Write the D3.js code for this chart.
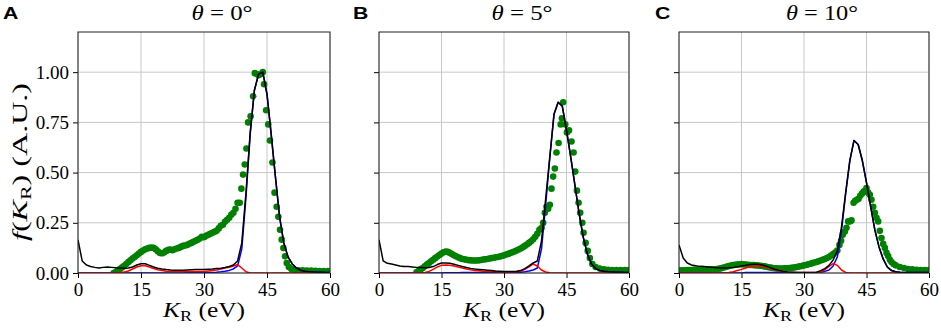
<!DOCTYPE html>
<html>
<head>
<meta charset="utf-8">
<script src="https://cdn.jsdelivr.net/npm/d3@7"></script>
<style>
  body { margin: 0; background: #fff; }
  svg { display: block; }
</style>
</head>
<body>
<svg width="941" height="329"></svg>
<script>
// energy grid for the calculated curves (eV)
const kGrid = [0,1,2,3,4,5,6,7,8,9,10,11,12,13,14,15,16,17,18,19,20,21,22,23,24,25,26,27,28,29,30,
  31,32,33,34,35,36,37,38,39,40,41,42,43,44,45,46,47,48,49,50,51,52,53,54,55,56,57,58,59,60];

// ---- panel A, theta = 0 ----
const totA = [0.165,0.06,0.04,0.032,0.028,0.025,0.028,0.03,0.028,0.026,0.025,0.024,0.025,0.03,0.04,0.046,
  0.046,0.038,0.03,0.024,0.02,0.017,0.015,0.014,0.014,0.014,0.015,0.016,0.017,0.018,0.018,
  0.019,0.02,0.022,0.024,0.027,0.032,0.04,0.06,0.15,0.4,0.7,0.91,0.99,1.0,0.89,0.69,0.48,0.28,0.15,0.08,
  0.045,0.025,0.014,0.009,0.006,0.005,0.004,0.004,0.003,0.003];
const blueA = [0,0,0,0,0,0,0,0,0,0,0,0,0,0,0,0,0,0,0,0,0,0,0,0,0,0,0.001,0.001,0.001,0.001,0.001,
  0.002,0.003,0.004,0.006,0.009,0.013,0.02,0.035,0.12,0.38,0.69,0.91,0.99,1.0,0.89,0.69,0.48,0.28,0.15,0.08,
  0.045,0.025,0.014,0.009,0.006,0.005,0.004,0.004,0.003,0.003];
const redA = [0,0,0,0,0,0,0,0,0,0,0.002,0.005,0.01,0.02,0.03,0.036,0.036,0.03,0.022,0.016,0.012,
  0.009,0.008,0.007,0.007,0.007,0.007,0.007,0.007,0.008,0.008,0.01,0.012,0.015,0.02,0.025,0.028,0.035,
  0.042,0.025,0.006,0,0,0,0,0,0,0,0,0,0,0,0,0,0,0,0,0,0,0,0];
const expXA = [8.5,9,9.5,10,10.5,11,11.5,12,12.5,13,13.5,14,14.5,15,15.5,16,16.5,17,17.5,18,18.5,19,19.5,
  20,20.5,21,21.5,22,22.5,23,23.5,24,24.5,25,25.5,26,26.5,27,27.5,28,28.5,29,29.5,30,30.5,31,31.5,32,32.5,
  33,33.5,34,34.5,35,35.5,36,36.5,37,37.5,38,38.5,38.9,39.3,39.7,40.1,40.5,41.1,41.7,42.1,42.6,43.0,43.5,
  44.0,44.3,44.8,45.3,45.7,46.3,46.8,47.3,47.7,48.1,48.5,48.9,49.3,49.7,50.2,50.8,51.5,52.5,53.5,54.5,
  55.5,56.5,57.5,58.5,59.5];
const expYA = [0.0,0.005,0.012,0.02,0.028,0.036,0.045,0.055,0.063,0.072,0.08,0.088,0.097,0.105,0.112,0.118,
  0.122,0.125,0.127,0.125,0.118,0.108,0.1,0.098,0.102,0.11,0.115,0.117,0.113,0.118,0.122,0.125,0.13,0.135,
  0.137,0.14,0.146,0.15,0.155,0.16,0.165,0.172,0.18,0.178,0.185,0.19,0.195,0.2,0.205,0.21,0.222,0.235,0.24,
  0.255,0.265,0.275,0.29,0.3,0.32,0.35,0.35,0.42,0.49,0.54,0.62,0.75,0.78,0.88,0.995,0.99,0.985,0.99,
  1.0,0.94,0.81,0.74,0.66,0.55,0.4,0.33,0.28,0.215,0.166,0.124,0.083,0.05,0.03,0.02,0.016,0.014,0.013,
  0.012,0.012,0.011,0.01,0.01,0.01];

// ---- panel B, theta = 5 ----
const totB = [0.165,0.06,0.048,0.045,0.04,0.035,0.032,0.032,0.03,0.028,0.027,0.026,0.027,0.032,0.042,0.05,
  0.05,0.048,0.044,0.038,0.032,0.027,0.023,0.02,0.018,0.016,0.014,0.012,0.01,0.009,0.008,
  0.008,0.008,0.009,0.012,0.022,0.035,0.05,0.06,0.16,0.37,0.58,0.79,0.85,0.83,0.71,0.58,0.44,0.3,0.18,0.095,
  0.045,0.022,0.013,0.009,0.006,0.005,0.004,0.004,0.003,0.003];
const blueB = [0,0,0,0,0,0,0,0,0,0,0,0,0,0,0,0,0.001,0.001,0.001,0.001,0.002,0.002,0.002,0.002,0.002,0.002,
  0.002,0.002,0.002,0.002,0.002,0.003,0.003,0.003,0.004,0.006,0.01,0.015,0.025,0.12,0.34,0.575,0.79,0.85,
  0.83,0.71,0.58,0.44,0.3,0.18,0.095,0.045,0.022,0.013,0.009,0.006,0.005,0.004,0.004,0.003,0.003];
const redB = [0,0,0,0,0,0,0,0,0,0,0,0.003,0.008,0.018,0.03,0.038,0.04,0.039,0.035,0.03,0.025,
  0.02,0.016,0.013,0.011,0.009,0.008,0.007,0.006,0.005,0.005,0.005,0.005,0.006,0.009,0.018,0.03,0.045,
  0.035,0.015,0.005,0.001,0,0,0,0,0,0,0,0,0,0,0,0,0,0,0,0,0,0,0];
const expXB = [9,9.5,10,10.5,11,11.5,12,12.5,13,13.5,14,14.5,15,15.5,16,16.5,17,17.5,18,18.5,19,19.5,20,20.5,
  21,21.5,22,22.5,23,23.5,24,24.5,25,25.5,26,26.5,27,27.5,28,28.5,29,29.5,30,30.5,31,31.5,32,32.5,33,33.5,
  34,34.5,35,35.5,36,36.5,37,37.5,38,38.5,39,39.4,39.8,40.2,40.6,41.0,41.4,41.8,42.2,42.6,43.1,43.6,43.9,
  44.2,44.7,45.1,45.6,46.2,46.7,47.1,47.5,47.9,48.3,48.8,49.1,49.6,50.1,50.6,51.2,52,53,54,55,56,57,58,
  59,60];
const expYB = [0.003,0.01,0.018,0.025,0.033,0.042,0.05,0.058,0.066,0.074,0.082,0.09,0.097,0.103,0.107,0.105,
  0.1,0.094,0.088,0.083,0.078,0.074,0.07,0.068,0.066,0.064,0.063,0.062,0.062,0.062,0.063,0.065,0.067,0.068,
  0.07,0.072,0.074,0.076,0.078,0.08,0.082,0.085,0.088,0.092,0.095,0.099,0.103,0.107,0.112,0.117,0.122,
  0.128,0.135,0.142,0.15,0.158,0.168,0.18,0.195,0.215,0.224,0.25,0.3,0.33,0.32,0.34,0.42,0.48,0.52,0.6,
  0.647,0.74,0.77,0.85,0.74,0.70,0.71,0.655,0.6,0.505,0.41,0.35,0.3,0.25,0.2,0.15,0.11,0.075,0.045,0.03,
  0.022,0.018,0.016,0.015,0.015,0.015,0.015,0.015];

// ---- panel C, theta = 10 ----
const totC = [0.14,0.075,0.05,0.04,0.036,0.033,0.032,0.03,0.028,0.026,0.025,0.025,0.026,0.028,0.031,0.035,
  0.039,0.042,0.044,0.043,0.04,0.034,0.026,0.019,0.013,0.008,0.005,0.004,0.003,0.003,0.003,
  0.003,0.003,0.004,0.012,0.022,0.038,0.065,0.11,0.23,0.4,0.56,0.66,0.64,0.56,0.45,0.33,0.215,0.13,0.07,
  0.03,0.012,0.006,0.004,0.003,0.003,0.002,0.002,0.002,0.002,0.002];
const blueC = [0,0,0,0,0,0,0,0,0,0,0,0,0,0,0,0,0.002,0.002,0.002,0.002,0.002,0.002,0.002,0.002,0.002,
  0.002,0.002,0.002,0.002,0.001,0.001,0.001,0.001,0.001,0.004,0.008,0.015,0.035,0.08,0.21,0.395,0.56,0.66,
  0.64,0.56,0.45,0.33,0.215,0.13,0.07,0.03,0.012,0.006,0.004,0.003,0.003,0.002,0.002,0.002,0.002,0.002];
const redC = [0,0,0,0,0,0,0,0,0,0,0,0,0.002,0.006,0.012,0.018,0.025,0.031,0.035,0.036,0.034,0.029,0.022,
  0.016,0.011,0.007,0.004,0.003,0.002,0.002,0.002,0.002,0.002,0.002,0.006,0.016,0.033,0.047,0.038,0.015,
  0.003,0,0,0,0,0,0,0,0,0,0,0,0,0,0,0,0,0,0,0,0];
const expXC = [0,0.5,1,1.5,2,2.5,3,3.5,4,4.5,5,5.5,6,6.5,7,7.5,8,8.5,9,9.5,10,10.5,11,11.5,12,12.5,13,13.5,
  14,14.5,15,15.5,16,16.5,17,17.5,18,18.5,19,19.5,20,20.5,21,21.5,22,22.5,23,23.5,24,24.5,25,25.5,26,26.5,
  27,27.5,28,28.5,29,29.5,30,30.5,31,31.5,32,32.5,33,33.5,34,34.5,35,35.5,36,36.5,37,37.5,38,38.5,38.9,
  39.3,39.8,40.2,40.6,41.0,41.4,41.9,42.3,42.7,43.1,43.5,43.9,44.3,44.7,45.0,45.4,45.8,46.2,46.6,47.0,47.4,
  47.8,48.2,48.6,49.0,49.4,49.8,50.2,50.6,51.0,51.5,52,53,54,55,56,57,58,59,60];
const expYC = [0.012,0.013,0.014,0.014,0.015,0.015,0.015,0.016,0.016,0.016,0.016,0.017,0.017,0.017,0.018,
  0.018,0.018,0.019,0.02,0.021,0.023,0.026,0.029,0.032,0.035,0.037,0.039,0.041,0.042,0.043,0.044,0.043,
  0.042,0.041,0.04,0.04,0.039,0.038,0.037,0.036,0.035,0.033,0.031,0.029,0.027,0.025,0.024,0.023,0.022,
  0.022,0.022,0.023,0.024,0.025,0.026,0.027,0.029,0.031,0.033,0.035,0.038,0.04,0.043,0.046,0.049,0.052,
  0.055,0.058,0.062,0.066,0.07,0.075,0.08,0.087,0.094,0.102,0.112,0.14,0.16,0.19,0.207,0.225,0.257,0.257,
  0.262,0.35,0.36,0.365,0.37,0.385,0.395,0.405,0.41,0.423,0.4,0.39,0.365,0.33,0.3,0.275,0.257,0.21,0.174,
  0.145,0.125,0.1,0.085,0.066,0.055,0.045,0.038,0.03,0.025,0.02,0.018,0.016,0.015,0.015,0.015];

const xTicks = [0, 15, 30, 45, 60];
const yTicks = [0, 0.25, 0.5, 0.75, 1.0];
const panelLetters = ['A', 'B', 'C'];
const thetas = ['0', '5', '10'];

const panels = [
  { letter: panelLetters[0], theta: thetas[0], left: 78, width: 252, lx: 3, ex: expXA, ey: expYA, tot: totA, blue: blueA, red: redA },
  { letter: panelLetters[1], theta: thetas[1], left: 379, width: 250, lx: 353, ex: expXB, ey: expYB, tot: totB, blue: blueB, red: redB },
  { letter: panelLetters[2], theta: thetas[2], left: 679, width: 250, lx: 655, ex: expXC, ey: expYC, tot: totC, blue: blueC, red: redC }
];

const svg = d3.select('svg');
const plotTop = 32, plotH = 241;
const serif = '"Liberation Serif", "Times New Roman", serif';

// math-style label: italic symbol with roman subscript
const kLabel = (sel) => {
  sel.append('tspan').attr('font-style', 'italic').text('K');
  sel.append('tspan').attr('font-size', '15px').attr('dy', 4).text('R');
};

panels.forEach((p, i) => {
  const x = d3.scaleLinear().domain([0, 60]).range([0, p.width]);
  const y = d3.scaleLinear().domain([0, 1.2]).range([plotH, 0]);
  const g = svg.append('g').attr('transform', `translate(${p.left},${plotTop})`);

  g.append('clipPath').attr('id', 'clip' + i)
    .append('rect').attr('width', p.width).attr('height', plotH);

  // grid
  g.append('g').selectAll('line').data(xTicks).join('line')
    .attr('x1', d => x(d)).attr('x2', d => x(d)).attr('y1', 0).attr('y2', plotH)
    .attr('stroke', '#c8c8c8').attr('stroke-width', 1);
  g.append('g').selectAll('line').data(yTicks).join('line')
    .attr('y1', d => y(d)).attr('y2', d => y(d)).attr('x1', 0).attr('x2', p.width)
    .attr('stroke', '#c8c8c8').attr('stroke-width', 1);

  const plot = g.append('g').attr('clip-path', `url(#clip${i})`);

  // measured points
  plot.selectAll('circle').data(p.ex.map((v, j) => [v, p.ey[j]])).join('circle')
    .attr('cx', d => x(d[0])).attr('cy', d => y(d[1])).attr('r', 3.3)
    .attr('fill', '#008000');

  const line = d3.line().x((d, j) => x(kGrid[j])).y(d => y(d));
  [[p.blue, '#0000ff'], [p.red, '#ff0000'], [p.tot, '#000000']].forEach(([s, c]) => {
    plot.append('path').datum(s).attr('d', line)
      .attr('fill', 'none').attr('stroke', c).attr('stroke-width', 1.5)
      .attr('stroke-linejoin', 'round');
  });

  // axes
  const ax = g.append('g').attr('transform', `translate(0,${plotH})`)
    .call(d3.axisBottom(x).tickValues(xTicks).tickSize(5).tickFormat(d3.format('d')));
  ax.select('.domain').remove();
  ax.selectAll('.tick text').attr('y', 23).attr('dy', 0).attr('fill', '#000')
    .style('font-family', serif).style('font-size', '19px');
  ax.selectAll('.tick line').attr('stroke', '#000');

  const ay = g.append('g')
    .call(d3.axisLeft(y).tickValues(yTicks).tickSize(5)
      .tickFormat(i === 0 ? d3.format('.2f') : ''));
  ay.select('.domain').remove();
  ay.selectAll('.tick text').attr('x', -9).attr('fill', '#000')
    .style('font-family', serif).style('font-size', '19px');
  ay.selectAll('.tick line').attr('stroke', '#000');

  // frame
  g.append('rect').attr('width', p.width).attr('height', plotH)
    .attr('fill', 'none').attr('stroke', '#222').attr('stroke-width', 1);

  // title
  const t = svg.append('text').attr('x', p.left + p.width / 2 + 18).attr('y', 20)
    .attr('text-anchor', 'middle').attr('font-family', serif).attr('font-size', '21px')
    .attr('textLength', i === 2 ? 72 : 61).attr('lengthAdjust', 'spacingAndGlyphs');
  t.append('tspan').attr('font-style', 'italic').text('θ');
  t.append('tspan').text(` = ${p.theta}°`);

  // x label
  const xl = svg.append('text').attr('x', p.left + p.width / 2).attr('y', 317)
    .attr('text-anchor', 'middle').attr('font-family', serif).attr('font-size', '21px')
    .attr('textLength', 82).attr('lengthAdjust', 'spacingAndGlyphs');
  kLabel(xl);
  xl.append('tspan').attr('dy', -4).text(' (eV)');

  // panel letter
  svg.append('text').attr('transform', `translate(${p.lx},19) scale(1.25,1)`)
    .attr('font-family', '"Liberation Sans", Arial, sans-serif').attr('font-weight', 'bold')
    .attr('font-size', '17px').text(p.letter);
});

// y label
const yl = svg.append('text')
  .attr('transform', 'translate(27,162) rotate(-90)')
  .attr('text-anchor', 'middle').attr('font-family', serif).attr('font-size', '22px')
  .attr('textLength', 158).attr('lengthAdjust', 'spacingAndGlyphs');
yl.append('tspan').attr('font-style', 'italic').text('f');
yl.append('tspan').text('(');
kLabel(yl);
yl.append('tspan').attr('dy', -4).text(') (A.U.)');
</script>
</body>
</html>
